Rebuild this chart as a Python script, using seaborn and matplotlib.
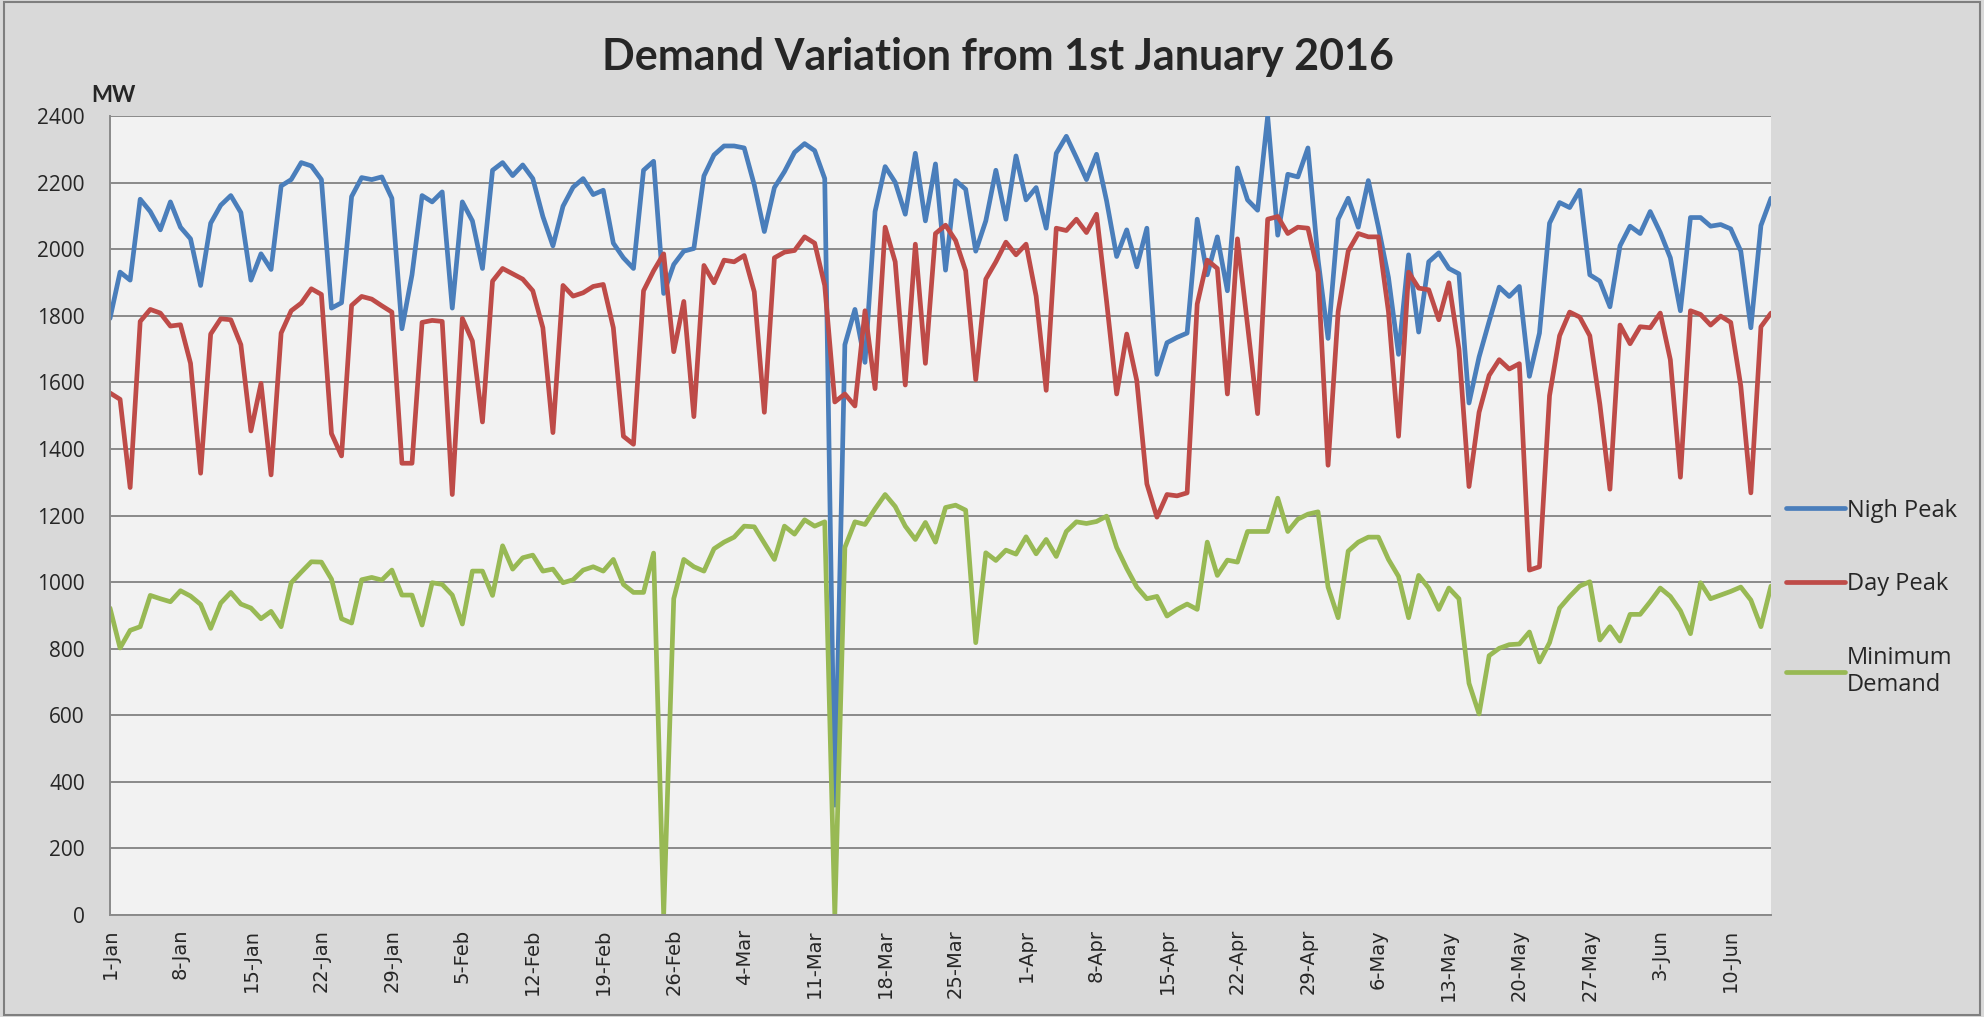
import matplotlib
matplotlib.use("Agg")
from matplotlib import pyplot as plt
from matplotlib.patches import Rectangle
import numpy as np
import pandas as pd
import seaborn as sns

start_date = "2016-01-01"

# daily values, 1-Jan .. 15-Jun 2016 (MW)
night_peak = [1792, 1931, 1907, 2150, 2113, 2058, 2142, 2066, 2031, 1891, 2078, 2132, 2161, 2110,
              1907, 1986, 1939, 2190, 2209, 2260, 2250, 2209, 1823, 1839, 2158, 2215, 2209, 2217,
              2153, 1761, 1923, 2161, 2142, 2172, 1823, 2142, 2085, 1942, 2237, 2260, 2221, 2253,
              2212, 2098, 2010, 2129, 2186, 2212, 2164, 2177, 2018, 1974, 1942, 2237, 2264,
              1867, 1954, 1994, 2002, 2220, 2283, 2310, 2310, 2304, 2193, 2053, 2185, 2233, 2291,
              2317, 2296, 2212, 330, 1713, 1819, 1660, 2113, 2248, 2201, 2105, 2288, 2085, 2256, 1937,
              2206, 2180, 1994, 2085, 2237, 2090, 2280, 2148, 2185, 2063, 2288, 2339, 2275, 2209,
              2285, 2145, 1978, 2058, 1947, 2063, 1624, 1719, 1735, 1748, 2090, 1923, 2037, 1875,
              2244, 2148, 2117, 2399, 2042, 2225, 2217, 2304, 1970, 1732, 2090, 2153, 2066, 2206,
              2066, 1915, 1684, 1983, 1751, 1962, 1989, 1942, 1926, 1538, 1676, 1783, 1886, 1858,
              1888, 1618, 1748, 2078, 2140, 2125, 2177, 1923, 1904, 1827, 2010, 2069, 2047, 2113,
              2050, 1974, 1815, 2095, 2095, 2069, 2074, 2061, 1994, 1764, 2071, 2153]

day_peak = [1568, 1549, 1284, 1783, 1819, 1808, 1769, 1773, 1657, 1327, 1745, 1791, 1788, 1713,
            1454, 1597, 1322, 1748, 1815, 1838, 1881, 1864, 1446, 1379, 1831, 1858, 1850, 1830,
            1811, 1357, 1357, 1780, 1786, 1783, 1263, 1792, 1724, 1481, 1904, 1942, 1926, 1910,
            1875, 1764, 1449, 1891, 1859, 1869, 1888, 1894, 1764, 1438, 1414, 1875, 1935,
            1986, 1692, 1843, 1497, 1951, 1899, 1967, 1962, 1981, 1872, 1510, 1974, 1991, 1996,
            2037, 2018, 1891, 1541, 1565, 1529, 1815, 1581, 2066, 1962, 1592, 2015, 1657, 2047, 2072,
            2026, 1935, 1608, 1910, 1962, 2021, 1983, 2015, 1859, 1576, 2063, 2056, 2090, 2050,
            2105, 1843, 1565, 1745, 1605, 1295, 1195, 1263, 1259, 1268, 1835, 1967, 1942, 1565,
            2031, 1772, 1506, 2090, 2098, 2047, 2066, 2063, 1931, 1351, 1812, 1994, 2047, 2037,
            2037, 1812, 1438, 1931, 1883, 1878, 1788, 1899, 1700, 1287, 1510, 1621, 1668, 1640,
            1656, 1036, 1046, 1560, 1740, 1811, 1796, 1740, 1534, 1279, 1772, 1716, 1767, 1764,
            1808, 1668, 1315, 1815, 1804, 1772, 1799, 1780, 1589, 1268, 1767, 1808]

min_demand = [922, 802, 855, 866, 960, 950, 941, 974, 958, 933, 861, 937, 969, 934,
              922, 890, 912, 866, 998, 1030, 1061, 1060, 1009, 890, 877, 1007, 1014, 1006,
              1036, 961, 961, 871, 998, 993, 961, 874, 1033, 1033, 960, 1109, 1039, 1073,
              1081, 1033, 1039, 998, 1007, 1036, 1046, 1033, 1068, 993, 969, 969, 1087,
              0, 950, 1068, 1046, 1033, 1100, 1120, 1135, 1168, 1166, 1117, 1068, 1168, 1144,
              1187, 1168, 1181, 0, 1104, 1181, 1173, 1220, 1263, 1227, 1168, 1128, 1179, 1120, 1224,
              1231, 1216, 818, 1088, 1065, 1096, 1084, 1136, 1085, 1128, 1077, 1152, 1181, 1176,
              1182, 1198, 1104, 1041, 985, 950, 957, 898, 918, 934, 918, 1120, 1020, 1066,
              1060, 1152, 1152, 1152, 1252, 1152, 1189, 1204, 1211, 985, 893, 1093, 1120, 1135,
              1135, 1068, 1017, 893, 1020, 982, 918, 982, 950, 696, 604, 779, 801, 812,
              814, 850, 760, 818, 922, 957, 988, 1001, 826, 866, 823, 903, 903, 941,
              982, 957, 914, 845, 998, 950, 961, 972, 985, 946, 866, 988]

series_names = ["Nigh Peak", "Day Peak", "Minimum\nDemand"]
colors = ["#4a7ebb", "#be4b48", "#98b954"]

dates = pd.date_range(start_date, periods=len(night_peak), freq="D")
df = pd.concat([
    pd.DataFrame({"date": dates, "MW": vals, "series": name})
    for name, vals in zip(series_names, [night_peak, day_peak, min_demand])
], ignore_index=True)

sns.set_theme(style="white")
plt.rcParams["font.family"] = ["Open Sans", "DejaVu Sans"]

fig = plt.figure(figsize=(19.84, 10.17), dpi=100, facecolor="#d9d9d9")
ax = fig.add_axes([110 / 1984, 1 - 915 / 1017, (1771 - 110) / 1984, (915 - 116) / 1017])
ax.set_facecolor("#f2f2f2")

sns.lineplot(data=df, x="date", y="MW", hue="series", hue_order=series_names,
             palette=colors, linewidth=3.4, ax=ax)

ax.set_ylim(0, 2400)
ax.set_yticks(np.arange(0, 2401, 200))
ax.set_xlim(dates[0], dates[-1])
tick_dates = dates[::7]
ax.set_xticks(tick_dates)
ax.set_xticklabels([f"{d.day}-{d:%b}" for d in tick_dates], rotation=90,
                   fontsize=14, family="DejaVu Sans")
ax.tick_params(axis="y", labelsize=15, pad=18, length=0)
ax.tick_params(axis="x", pad=10, length=0)
ax.set_xlabel("")
ax.set_ylabel("")

ax.yaxis.grid(True, color="#8a8a8a", linewidth=1.4)
ax.set_axisbelow(True)
for side in ["top", "right"]:
    ax.spines[side].set_visible(False)
for side in ["left", "bottom"]:
    ax.spines[side].set_color("#8a8a8a")
    ax.spines[side].set_linewidth(1.4)

handles, labels = ax.get_legend_handles_labels()
ax.get_legend().remove()
fig.legend(handles, labels, loc="center left", bbox_to_anchor=(0.9, 0.412),
           frameon=False, fontsize=17, labelspacing=2.1, handlelength=2.5,
           handletextpad=0.1, borderpad=0, borderaxespad=0)

fig.text(0.503, 0.944, "Demand Variation from 1st January 2016", ha="center", va="center",
         fontsize=31, fontweight="bold", family="Lato")
fig.text(0.046, 0.906, "MW", ha="left", va="center", fontsize=16, fontweight="bold", family="Lato")

fig.patches.append(Rectangle((0.002, 0.002), 0.996, 0.996, transform=fig.transFigure,
                             fill=False, edgecolor="#7f7f7f", linewidth=1.5))

fig.savefig("out.png", dpi=100, facecolor=fig.get_facecolor())
